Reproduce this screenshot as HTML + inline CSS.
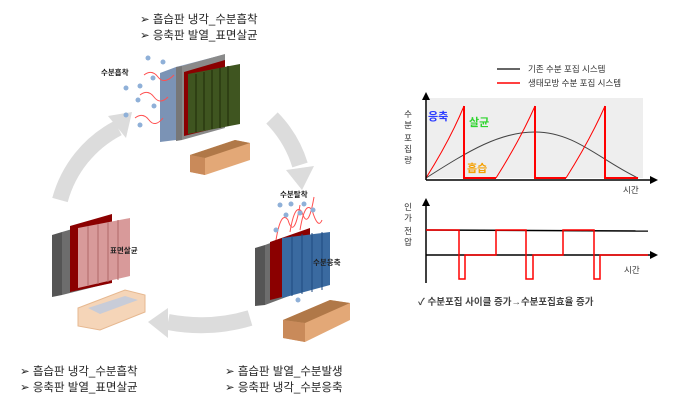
<!DOCTYPE html>
<html><head><meta charset="utf-8"><style>
html,body{margin:0;padding:0;background:#fff;}
svg{display:block;font-family:"Liberation Sans","Noto Sans CJK KR",sans-serif;}
</style></head><body>
<svg width="680" height="408" viewBox="0 0 680 408" xmlns="http://www.w3.org/2000/svg">
<!-- cycle arrows -->
<g fill="none" stroke="#dcdcdc" stroke-width="16">
<path d="M272 118 A115 115 0 0 1 300 165"/>
<path d="M250 318 Q210 330 168 322"/>
<path d="M60 200 A115 115 0 0 1 118 128"/>
</g>
<g fill="#dcdcdc">
<polygon points="286,170 314,166 302,190"/>
<polygon points="168,308 168,338 148,322"/>
<polygon points="108,116 132,112 126,138"/>
</g>
<!-- top texts -->
<g font-size="11.5" fill="#222">
<text x="140" y="23">➢  흡습판 냉각_수분흡착</text>
<text x="140" y="39">➢  응축판 발열_표면살균</text>
<text x="20" y="375">➢  흡습판 냉각_수분흡착</text>
<text x="20" y="391">➢  응축판 발열_표면살균</text>
<text x="225" y="375">➢  흡습판 발열_수분발생</text>
<text x="225" y="391">➢  응축판 냉각_수분응축</text>
</g>
<!-- top device -->
<polygon points="160,73 176,67 176,140 160,142" fill="#7b93b5"/>
<polygon points="176,67 222,55 222,128 176,140" fill="#8aa2c4"/>
<polygon points="176,67 182,66 182,140 176,141" fill="#777"/>
<polygon points="182,66 225,54 225,128 182,140" fill="#8a8a8a"/>
<polygon points="184,72 225,60 225,126 184,136" fill="#8b0000"/>
<polygon points="188,74 240,64 240,124 188,134" fill="#3f5520"/>
<g stroke="#2a3a10" stroke-width="1.5"><line x1="196" y1="74" x2="196" y2="132"/><line x1="204" y1="72" x2="204" y2="130"/><line x1="212" y1="70" x2="212" y2="129"/><line x1="220" y1="68" x2="220" y2="128"/><line x1="228" y1="66" x2="228" y2="126"/></g>
<polygon points="190,155 235,140 250,143 250,160 205,175 190,172" fill="#e3a877"/>
<polygon points="190,155 205,158 205,175 190,172" fill="#c98a5a"/>
<polygon points="190,155 235,140 250,143 205,158" fill="#b07848"/>
<text x="101" y="75" font-size="7.5" font-weight="bold" fill="#222">수분흡착</text>
<g fill="#8fb0d8"><circle cx="148" cy="58" r="2.5"/><circle cx="163" cy="62" r="2.5"/><circle cx="126" cy="88" r="2.5"/><circle cx="140" cy="86" r="2.5"/><circle cx="153" cy="78" r="2.5"/><circle cx="138" cy="100" r="2.5"/><circle cx="154" cy="106" r="2.5"/><circle cx="126" cy="115" r="2.5"/><circle cx="140" cy="125" r="2.5"/></g>
<g fill="none" stroke="#ff5050" stroke-width="1"><path d="M144 75 q8 -6 14 2 t16 -2"/><path d="M140 95 q8 -6 14 2 t14 0"/><path d="M135 118 q8 -6 14 2 t14 -2"/></g>
<!-- bottom-left device -->
<polygon points="52,235 62,232 62,295 52,297" fill="#555"/>
<polygon points="62,232 110,218 110,283 62,295" fill="#6d6d6d"/>
<polygon points="70,226 112,214 112,283 70,292" fill="#8b0000"/>
<polygon points="78,228 130,218 130,276 78,288" fill="#d89a9a"/>
<g stroke="#b06868"><line x1="88" y1="226" x2="88" y2="286"/><line x1="98" y1="224" x2="98" y2="284"/><line x1="108" y1="222" x2="108" y2="282"/><line x1="118" y1="220" x2="118" y2="280"/></g>
<text x="110" y="253" font-size="7.5" font-weight="bold" fill="#222">표면살균</text>
<polygon points="78,308 125,290 145,295 145,312 100,330 78,326" fill="#f5d5b8" stroke="#e6b890"/>
<polygon points="88,308 125,296 138,300 100,314" fill="#c8ccd8"/>
<!-- bottom-right device -->
<polygon points="255,248 265,245 265,305 255,306" fill="#555"/>
<polygon points="265,245 305,230 305,290 265,305" fill="#6d6d6d"/>
<polygon points="270,242 310,228 310,290 270,300" fill="#8b0000"/>
<polygon points="282,238 330,232 330,285 282,298" fill="#3a6aa0"/>
<g stroke="#1f4a80"><line x1="292" y1="236" x2="292" y2="296"/><line x1="302" y1="234" x2="302" y2="294"/><line x1="312" y1="233" x2="312" y2="292"/><line x1="322" y1="232" x2="322" y2="290"/></g>
<text x="313" y="265" font-size="7.5" font-weight="bold" fill="#222">수분응축</text>
<text x="280" y="197" font-size="7.5" font-weight="bold" fill="#222">수분탈착</text>
<g fill="none" stroke="#ff5050" stroke-width="1"><path d="M276 240 q5 -30 12 -20 q6 20 12 -15"/><path d="M290 232 q5 -30 12 -20 q6 20 12 -15"/><path d="M300 230 q5 -30 12 -20 q6 20 10 10"/></g>
<g fill="#8fb0d8"><circle cx="280" cy="205" r="2.5"/><circle cx="291" cy="204" r="2.5"/><circle cx="304" cy="204" r="2.5"/><circle cx="286" cy="215" r="2.5"/><circle cx="300" cy="213" r="2.5"/><circle cx="276" cy="230" r="2.5"/><circle cx="313" cy="210" r="2.5"/><circle cx="298" cy="300" r="2.5"/></g>
<polygon points="283,320 330,300 350,303 350,320 305,342 283,338" fill="#e3a877"/>
<polygon points="283,320 305,323 305,342 283,338" fill="#c98a5a"/>
<polygon points="283,320 330,300 350,303 305,323" fill="#b07848"/>
<!-- legend -->
<line x1="497" y1="69" x2="520" y2="69" stroke="#333" stroke-width="1.5"/>
<text x="528" y="72" font-size="8.5" fill="#333">기존 수분 포집 시스템</text>
<line x1="497" y1="83" x2="520" y2="83" stroke="#f00" stroke-width="1.5"/>
<text x="528" y="86" font-size="8.5" fill="#333">생태모방 수분 포집 시스템</text>
<!-- top graph -->
<rect x="427" y="98" width="216" height="80" fill="#eeeeee"/>
<path d="M426 178 C470 150 500 132 535 132 C575 132 600 160 638 178" fill="none" stroke="#444" stroke-width="1"/>
<g fill="none" stroke="#f00" stroke-width="1"><path d="M426 178 Q450 140 464 106"/><path d="M496 178 Q520 140 535 106"/><path d="M566 178 Q590 140 605 106"/></g>
<path d="M464 106 L464 178 L496 178 M535 106 L535 178 L566 178 M605 106 L605 178 L638 178" fill="none" stroke="#f00" stroke-width="2"/>
<line x1="426" y1="180" x2="652" y2="180" stroke="#000" stroke-width="1.5"/>
<polygon points="658,180 650,176 650,184"/>
<line x1="426" y1="180" x2="426" y2="98" stroke="#000" stroke-width="1.5"/>
<polygon points="426,92 422,100 430,100"/>
<text x="428" y="120" font-size="11" font-weight="bold" fill="#2b3cff">응축</text>
<text x="469" y="126" font-size="11" font-weight="bold" fill="#2ed42e">살균</text>
<text x="467" y="172" font-size="11" font-weight="bold" fill="#f5a000">흡습</text>
<text x="623" y="193" font-size="8.5" fill="#333">시간</text>
<g font-size="8.5" fill="#333" text-anchor="middle"><text x="408" y="117">수</text><text x="408" y="128">분</text><text x="408" y="141">포</text><text x="408" y="152">집</text><text x="408" y="163">량</text>
<text x="408" y="210">인</text><text x="408" y="221">가</text><text x="408" y="234">전</text><text x="408" y="245">압</text></g>
<!-- bottom graph -->
<line x1="426" y1="230" x2="648" y2="231" stroke="#000" stroke-width="1.5"/>
<line x1="426" y1="255" x2="652" y2="255" stroke="#000" stroke-width="1.5"/>
<polygon points="658,255 650,251 650,259"/>
<line x1="426" y1="283" x2="426" y2="204" stroke="#000" stroke-width="1.5"/>
<polygon points="426,198 422,206 430,206"/>
<path d="M426 230 L459 230 L459 279 L465 279 L465 255 L496 255 L496 230 L526 230 L526 279 L533 279 L533 255 L563 255 L563 230 L594 230 L594 279 L600 279 L600 255 L648 255" fill="none" stroke="#f00" stroke-width="1.5"/>
<text x="624" y="273" font-size="8.5" fill="#333">시간</text>
<text x="418" y="305" font-size="9.5" font-weight="bold" fill="#444">✓  수분포집 사이클 증가→수분포집효율 증가</text>
</svg>
</body></html>
